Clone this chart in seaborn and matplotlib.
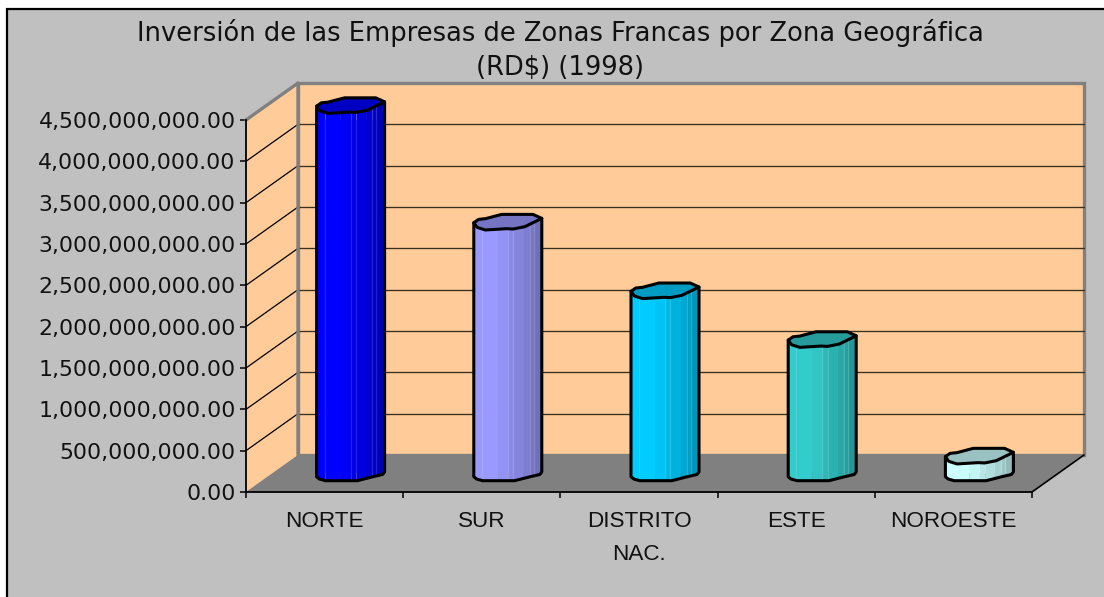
import numpy as np
import pandas as pd
import matplotlib
matplotlib.use("Agg")
import matplotlib.pyplot as plt
from matplotlib.patches import Polygon, Rectangle
import seaborn as sns

# ---- data ----
categories = ["NORTE", "SUR", "DISTRITO\nNAC.", "ESTE", "NOROESTE"]
inversion = [4.45e9, 3.04e9, 2.21e9, 1.62e9, 0.21e9]
y_ticks = [0, 0.5e9, 1e9, 1.5e9, 2e9, 2.5e9, 3e9, 3.5e9, 4e9, 4.5e9]
bar_colors = ["#0000FF", "#9999FF", "#00CCFF", "#33CCCC", "#CCFFFF"]
title = "Inversión de las Empresas de Zonas Francas por Zona Geográfica\n(RD$) (1998)"

sns.set_theme(style="white")
plt.rcParams["font.family"] = ["Liberation Sans", "DejaVu Sans"]

W, H = 1104, 597
L, R, T, B = 246, 1032, 120, 492
DEPTH_X, DEPTH_Y = 52, 37
BAR_SHIFT_X, BAR_SHIFT_Y, BAR_W = 26, 19, 68

fig = plt.figure(figsize=(W / 100, H / 100), dpi=100, facecolor="white")
fig.add_artist(Rectangle((6.5 / W, -0.01), 1.02, 1 - 9 / H + 0.01, transform=fig.transFigure,
                         facecolor="#C0C0C0", edgecolor="black", lw=1.6, zorder=-5))
ax = fig.add_axes([L / W, (H - B) / H, (R - L) / W, (B - T) / H])
ax.patch.set_alpha(0)

df = pd.DataFrame({"zona": categories, "inversion": inversion})
sns.barplot(data=df, x="zona", y="inversion", hue="zona", order=categories,
            hue_order=categories, palette=bar_colors, saturation=1, legend=False,
            width=BAR_W / ((R - L) / 5), ax=ax, linewidth=0, zorder=3)
ax.set_xlim(-0.5, 4.5)
ax.set_ylim(0, 4.5e9)

upx = (R - L) / 5
vpx = (B - T) / 4.5e9
dx = lambda p: p / upx
dy = lambda p: p / vpx

x0, x1, ytop = -0.5, 4.5, 4.5e9
ox, oy = dx(DEPTH_X), dy(DEPTH_Y)
WALL, EDGE = "#FFCC99", "#808080"

# back wall, side wall, floor
ax.add_patch(Rectangle((x0 + ox, oy), x1 - x0, ytop, fc=WALL, ec=EDGE, lw=2.4, clip_on=False, zorder=0.5))
ax.add_patch(Polygon([(x0, 0), (x0 + ox, oy), (x0 + ox, ytop + oy), (x0, ytop)], closed=True,
                     fc=WALL, ec="none", clip_on=False, zorder=0.6))
ax.plot([x0, x0 + ox, x0 + ox], [ytop, ytop + oy, oy], color=EDGE, lw=2.4, clip_on=False, zorder=1)
ax.add_patch(Polygon([(x0, 0), (x1, 0), (x1 + ox, oy), (x0 + ox, oy)], closed=True,
                     fc=EDGE, ec="none", clip_on=False, zorder=1.2))
ax.plot([x1, x1 + ox], [0, oy], color="black", lw=1.2, clip_on=False, zorder=1.3)
for t in y_ticks[1:-1]:
    ax.plot([x0 + ox, x1 + ox], [t + oy, t + oy], color="#3a3020", lw=0.95, clip_on=False, zorder=0.8)
    ax.plot([x0, x0 + ox], [t, t + oy], color="black", lw=0.9, clip_on=False, zorder=0.8)

# wobbly low-polygon outline of the cylinders (u across width, pixel offset down)
top_up_u = [0, .07, .17, .41, .87, 1]
top_up_d = [1, -2.3, -3, -7.3, -7.3, -3.3]
top_lo_u = [0, .05, .17, .48, .58, .75, 1]
top_lo_d = [1, 5.7, 8.3, 7, 7.3, 5, -3.3]
bot_u = [0, .04, .13, .6, .83, .97, 1]
bot_d = [3.7, 6, 7.7, 7.7, 3.7, 1.5, -1]

band_u = [0, .12, .35, .5, .58, .72, .82, .88, 1]
band_s = [1, 1, .96, .90, .87, .82, .77, .73]
light_u = [.12, .5, .58, .82, .88]

for container, col in zip(ax.containers, bar_colors):
    bar = container[0]
    h = bar.get_height()
    bar.set_x(bar.get_x() + dx(BAR_SHIFT_X))
    bar.set_y(dy(BAR_SHIFT_Y))
    xl, w = bar.get_x(), bar.get_width()
    base, top = bar.get_y(), bar.get_y() + h
    rgb = np.array(matplotlib.colors.to_rgb(col))
    for i, s in enumerate(band_s):
        u = np.linspace(band_u[i], band_u[i + 1], 8)
        ax.fill_between(xl + u * w,
                        base - dy(np.interp(u, bot_u, bot_d)),
                        top - dy(np.interp(u, top_lo_u, top_lo_d)),
                        color=rgb * s, lw=0, zorder=3.1, clip_on=False)
    for u in light_u:
        ax.plot([xl + u * w] * 2,
                [base - dy(np.interp(u, bot_u, bot_d)), top - dy(np.interp(u, top_lo_u, top_lo_d))],
                color="white", alpha=0.14, lw=0.9, zorder=3.2, clip_on=False)
    # top cap
    cap_x = np.r_[top_up_u, top_lo_u[::-1]]
    cap_y = np.r_[top_up_d, top_lo_d[::-1]]
    ax.add_patch(Polygon(np.c_[xl + cap_x * w, top - dy(cap_y)], closed=True, fc=rgb * 0.76,
                         ec="black", lw=2.2, joinstyle="round", zorder=3.4, clip_on=False))
    # body outline
    bu = np.array(bot_u)
    ox_line = np.r_[0, bu, 1]
    oy_line = np.r_[top - dy(top_lo_d[0]), base - dy(np.array(bot_d)), top - dy(top_lo_d[-1])]
    ax.plot(xl + ox_line * w, oy_line, color="black", lw=2.2, zorder=3.3, clip_on=False,
            solid_joinstyle="round")

# axes
for s in ("top", "right"):
    ax.spines[s].set_visible(False)
for s in ("left", "bottom"):
    ax.spines[s].set_color("black")
    ax.spines[s].set_linewidth(1.3)
    ax.spines[s].set_zorder(2)
ax.set_xlabel("")
ax.set_ylabel("")
ax.set_yticks(y_ticks)
ax.set_yticklabels([f"{v:,.2f}" for v in y_ticks], fontsize=15.8, color="#111111",
                   fontfamily="DejaVu Sans")
ax.tick_params(axis="y", left=True, length=4.5, width=1.1, color="black", pad=3)
ax.set_xticks(np.arange(-0.5, 5, 1))
ax.set_xticklabels([])
ax.set_xticks(range(5), categories, minor=True, fontsize=16.2, color="#111111", linespacing=1.72)
ax.tick_params(axis="x", which="major", bottom=True, length=4.5, width=1.1, color="black")
ax.tick_params(axis="x", which="minor", bottom=False, length=0, pad=14)

fig.text(560 / W, 1 - 19 / H, title, ha="center", va="top", fontsize=18.5, color="#111111",
         fontfamily="DejaVu Sans", linespacing=1.38)
fig.savefig("out.png", dpi=100)
